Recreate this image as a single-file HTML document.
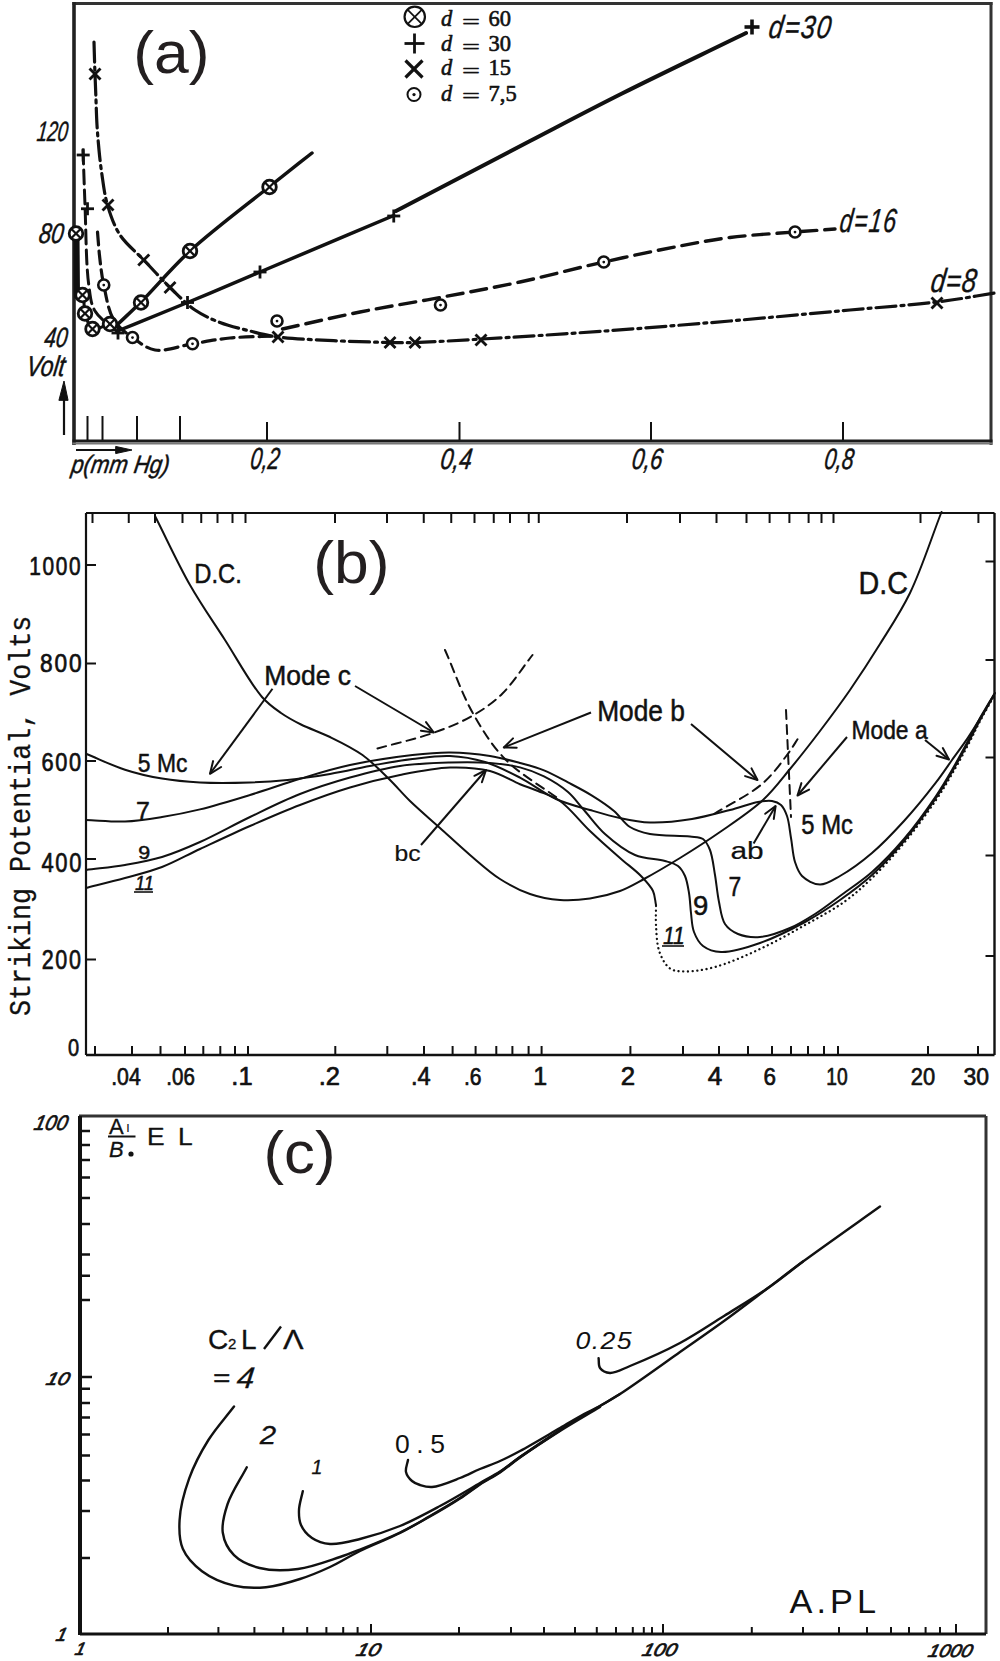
<!DOCTYPE html><html><head><meta charset="utf-8"><style>html,body{margin:0;padding:0;background:#fff;}svg{display:block;}</style></head><body>
<svg width="1000" height="1661" viewBox="0 0 1000 1661">
<rect width="1000" height="1661" fill="#fff"/>
<line x1="72.5" y1="3.5" x2="992.5" y2="3.5" stroke="#333" stroke-width="3" />
<line x1="991" y1="2" x2="991" y2="445" stroke="#333" stroke-width="3" />
<line x1="74" y1="2" x2="74" y2="445" stroke="#222" stroke-width="3.6" />
<line x1="72.5" y1="441" x2="992.5" y2="441" stroke="#1a1a1a" stroke-width="3" />
<line x1="72.5" y1="443.6" x2="992.5" y2="443.6" stroke="#777" stroke-width="2" />
<line x1="87.5" y1="416" x2="87.5" y2="440" stroke="#111" stroke-width="2" />
<line x1="102.5" y1="416" x2="102.5" y2="440" stroke="#111" stroke-width="2" />
<line x1="137" y1="416" x2="137" y2="440" stroke="#111" stroke-width="2" />
<line x1="180" y1="416" x2="180" y2="440" stroke="#111" stroke-width="2" />
<line x1="267" y1="422" x2="267" y2="440" stroke="#111" stroke-width="2" />
<line x1="459.5" y1="422" x2="459.5" y2="440" stroke="#111" stroke-width="2" />
<line x1="651" y1="422" x2="651" y2="440" stroke="#111" stroke-width="2" />
<line x1="843" y1="422" x2="843" y2="440" stroke="#111" stroke-width="2" />
<text transform="translate(36.21,140.64) scale(0.663,1) skewX(-10)" style="font-family:'Liberation Sans',sans-serif;font-size:27.95px;font-style:italic;" fill="#111" stroke="#111" stroke-width="0.5" stroke-linejoin="round">120</text>
<text transform="translate(37.92,243.03) scale(0.775,1) skewX(-10)" style="font-family:'Liberation Sans',sans-serif;font-size:28.49px;font-style:italic;" fill="#111" stroke="#111" stroke-width="0.5" stroke-linejoin="round">80</text>
<text transform="translate(43.59,347.04) scale(0.740,1) skewX(-10)" style="font-family:'Liberation Sans',sans-serif;font-size:27.95px;font-style:italic;" fill="#111" stroke="#111" stroke-width="0.5" stroke-linejoin="round">40</text>
<text transform="translate(25.46,375.82) scale(0.789,1) skewX(-10)" style="font-family:'Liberation Sans',sans-serif;font-size:28.80px;font-style:italic;" fill="#111" stroke="#111" stroke-width="0.5" stroke-linejoin="round">Volt</text>
<line x1="64" y1="392" x2="64" y2="435" stroke="#111" stroke-width="2.2" />
<path d="M59,400 L64,381 L68,400 Z" stroke="#111" stroke-width="1" fill="#111" stroke-linecap="round" stroke-linejoin="round" />
<text transform="translate(70.54,473.44) scale(0.872,1) skewX(-10)" style="font-family:'Liberation Sans',sans-serif;font-size:25.26px;font-style:italic;" fill="#111" stroke="#111" stroke-width="0.5" stroke-linejoin="round">p(mm Hg)</text>
<line x1="76" y1="450" x2="124" y2="450" stroke="#111" stroke-width="2" />
<path d="M116,446.5 L132,450 L116,453.5 Z" stroke="#111" stroke-width="1" fill="#111" stroke-linecap="round" stroke-linejoin="round" />
<text transform="translate(249.54,468.72) scale(0.684,1) skewX(-10)" style="font-family:'Liberation Sans',sans-serif;font-size:30.59px;font-style:italic;" fill="#111" stroke="#111" stroke-width="0.5" stroke-linejoin="round">0,2</text>
<text transform="translate(439.41,468.88) scale(0.772,1) skewX(-10)" style="font-family:'Liberation Sans',sans-serif;font-size:29.41px;font-style:italic;" fill="#111" stroke="#111" stroke-width="0.5" stroke-linejoin="round">0,4</text>
<text transform="translate(630.96,468.88) scale(0.749,1) skewX(-10)" style="font-family:'Liberation Sans',sans-serif;font-size:29.41px;font-style:italic;" fill="#111" stroke="#111" stroke-width="0.5" stroke-linejoin="round">0,6</text>
<text transform="translate(823.52,468.88) scale(0.718,1) skewX(-10)" style="font-family:'Liberation Sans',sans-serif;font-size:29.41px;font-style:italic;" fill="#111" stroke="#111" stroke-width="0.5" stroke-linejoin="round">0,8</text>
<text transform="translate(133.2,73.4) scale(1.04,1)" text-anchor="start" style="font-family:'Liberation Sans',sans-serif;font-size:60px;" fill="#231f20" >(a)</text>
<circle cx="414.75" cy="16.8" r="10.2" stroke="#111" stroke-width="2.2" fill="#fff"/>
<line x1="407.53758" y1="9.587580000000003" x2="421.96242" y2="24.01242" stroke="#111" stroke-width="1.7600000000000002" />
<line x1="407.53758" y1="24.01242" x2="421.96242" y2="9.587580000000003" stroke="#111" stroke-width="1.7600000000000002" />
<line x1="404.5" y1="43.5" x2="424.5" y2="43.5" stroke="#111" stroke-width="2.8" />
<line x1="414.5" y1="33.5" x2="414.5" y2="53.5" stroke="#111" stroke-width="2.8" />
<line x1="405.5" y1="60.5" x2="422.5" y2="77.5" stroke="#111" stroke-width="3.2" />
<line x1="405.5" y1="77.5" x2="422.5" y2="60.5" stroke="#111" stroke-width="3.2" />
<circle cx="414" cy="94.5" r="6.5" stroke="#111" stroke-width="2" fill="#fff"/>
<circle cx="414" cy="94.5" r="1.625" fill="#111"/>
<text transform="translate(441,26.2)" text-anchor="start" style="font-family:'Liberation Serif',sans-serif;font-size:22.5px;font-style:italic;" fill="#111"  stroke="#111" stroke-width="0.6" stroke-linejoin="round">d</text>
<text transform="translate(462,28.7) scale(1.45,1)" text-anchor="start" style="font-family:'Liberation Serif',sans-serif;font-size:22px;" fill="#111"  stroke="#111" stroke-width="0.5" stroke-linejoin="round">=</text>
<text transform="translate(488.5,26.2)" text-anchor="start" style="font-family:'Liberation Serif',sans-serif;font-size:22.5px;" fill="#111"  stroke="#111" stroke-width="0.6" stroke-linejoin="round">60</text>
<text transform="translate(441,51)" text-anchor="start" style="font-family:'Liberation Serif',sans-serif;font-size:22.5px;font-style:italic;" fill="#111"  stroke="#111" stroke-width="0.6" stroke-linejoin="round">d</text>
<text transform="translate(462,53.5) scale(1.45,1)" text-anchor="start" style="font-family:'Liberation Serif',sans-serif;font-size:22px;" fill="#111"  stroke="#111" stroke-width="0.5" stroke-linejoin="round">=</text>
<text transform="translate(488.5,51)" text-anchor="start" style="font-family:'Liberation Serif',sans-serif;font-size:22.5px;" fill="#111"  stroke="#111" stroke-width="0.6" stroke-linejoin="round">30</text>
<text transform="translate(441,75)" text-anchor="start" style="font-family:'Liberation Serif',sans-serif;font-size:22.5px;font-style:italic;" fill="#111"  stroke="#111" stroke-width="0.6" stroke-linejoin="round">d</text>
<text transform="translate(462,77.5) scale(1.45,1)" text-anchor="start" style="font-family:'Liberation Serif',sans-serif;font-size:22px;" fill="#111"  stroke="#111" stroke-width="0.5" stroke-linejoin="round">=</text>
<text transform="translate(488.5,75)" text-anchor="start" style="font-family:'Liberation Serif',sans-serif;font-size:22.5px;" fill="#111"  stroke="#111" stroke-width="0.6" stroke-linejoin="round">15</text>
<text transform="translate(441,100.5)" text-anchor="start" style="font-family:'Liberation Serif',sans-serif;font-size:22.5px;font-style:italic;" fill="#111"  stroke="#111" stroke-width="0.6" stroke-linejoin="round">d</text>
<text transform="translate(462,103.0) scale(1.45,1)" text-anchor="start" style="font-family:'Liberation Serif',sans-serif;font-size:22px;" fill="#111"  stroke="#111" stroke-width="0.5" stroke-linejoin="round">=</text>
<text transform="translate(488.5,100.5)" text-anchor="start" style="font-family:'Liberation Serif',sans-serif;font-size:22.5px;" fill="#111"  stroke="#111" stroke-width="0.6" stroke-linejoin="round">7,5</text>
<text transform="translate(767.72,38.36) scale(0.797,1) skewX(-10)" style="font-family:'Liberation Sans',sans-serif;font-size:32.00px;font-style:italic;letter-spacing:0.06em;" fill="#111" stroke="#111" stroke-width="0.4" stroke-linejoin="round">d=30</text>
<text transform="translate(838.85,231.83) scale(0.693,1) skewX(-10)" style="font-family:'Liberation Sans',sans-serif;font-size:33.33px;font-style:italic;letter-spacing:0.06em;" fill="#111" stroke="#111" stroke-width="0.4" stroke-linejoin="round">d=16</text>
<text transform="translate(929.71,291.83) scale(0.775,1) skewX(-10)" style="font-family:'Liberation Sans',sans-serif;font-size:33.33px;font-style:italic;letter-spacing:0.03em;" fill="#111" stroke="#111" stroke-width="0.4" stroke-linejoin="round">d=8</text>
<path d="M117.0,325.0 C125.0,317.3 131.7,311.3 141.0,302.0 C154.6,288.5 171.1,268.4 190.0,251.0 C212.7,230.2 246.6,204.9 269.0,187.0 C285.5,173.8 297.7,164.3 312.0,153.0" stroke="#111" stroke-width="3.5" fill="none" stroke-linecap="round" stroke-linejoin="round" />
<path d="M76.5,233 L77,296" stroke="#111" stroke-width="6" fill="none" stroke-linecap="round" stroke-linejoin="round" />
<path d="M77.0,296.0 C78.8,296.0 81.2,294.8 82.5,296.0 C84.9,298.0 83.4,307.5 85.0,313.0 C86.7,318.5 88.4,327.1 92.5,329.0 C96.7,330.9 105.5,324.0 110.0,324.0 C112.9,324.0 114.7,325.3 117.0,326.0" stroke="#111" stroke-width="3" fill="none" stroke-linecap="round" stroke-linejoin="round" />
<path d="M117.5,331.0 C140.8,321.5 164.1,312.2 187.5,302.5 C211.2,292.7 231.2,284.1 258.8,272.5 C296.6,256.5 348.8,234.5 393.8,215.5" stroke="#111" stroke-width="3.5" fill="none" stroke-linecap="round" stroke-linejoin="round" />
<path d="M396.0,211.0 C440.7,187.7 489.5,162.0 530.0,141.0 C563.5,123.6 588.9,110.1 622.0,93.5 C660.2,74.3 704.7,53.2 746.0,33.0" stroke="#111" stroke-width="4" fill="none" stroke-linecap="round" stroke-linejoin="round" />
<path d="M83.0,150.0 C83.7,168.3 84.2,185.0 85.0,205.0 C86.0,229.2 86.0,265.7 88.8,285.0 C90.3,296.1 90.5,303.4 95.0,311.0 C99.8,319.2 110.0,325.0 117.5,332.0" stroke="#111" stroke-width="3" fill="none" stroke-linecap="round" stroke-linejoin="round" stroke-dasharray="14 6" />
<path d="M94.0,42.0 C94.3,52.7 94.6,63.9 95.0,74.0 C95.3,83.1 95.7,91.4 96.0,100.0 C96.3,108.4 96.5,116.7 97.0,125.0 C97.5,133.3 98.2,141.7 99.0,150.0 C99.8,158.3 100.7,166.3 102.0,175.0 C103.4,184.6 104.6,195.2 107.5,205.0 C110.5,215.2 114.1,225.9 120.0,235.0 C126.1,244.3 135.6,251.5 143.8,260.0 C152.3,269.0 161.2,278.9 170.0,287.5 C178.3,295.5 186.2,304.0 195.0,310.0 C203.0,315.4 211.1,319.1 220.0,322.5 C229.4,326.1 240.1,328.5 250.0,331.0 C259.5,333.4 265.5,335.4 278.0,337.0 C302.8,340.2 366.0,341.9 390.0,342.5 C401.3,342.8 404.7,342.8 415.0,342.5 C431.9,342.1 456.3,340.5 482.0,339.0 C516.8,337.0 563.8,334.0 605.0,331.0 C646.5,328.0 688.8,324.5 730.0,321.0 C770.4,317.5 813.2,313.4 850.0,310.0 C881.3,307.1 911.0,305.2 937.0,302.0 C958.3,299.4 975.7,296.0 995.0,293.0" stroke="#111" stroke-width="3.2" fill="none" stroke-linecap="round" stroke-linejoin="round" stroke-dasharray="20 5 3 5" />
<path d="M97.5,232.0 C98.3,241.3 98.9,250.9 100.0,260.0 C101.0,268.6 101.8,276.0 103.8,285.0 C106.1,295.8 108.2,310.9 113.8,320.0 C118.4,327.6 125.6,332.5 132.5,337.5 C139.4,342.5 146.2,348.5 155.0,350.0 C165.6,351.8 180.0,345.8 192.5,343.8 C205.0,341.8 216.7,339.3 230.0,338.0 C245.0,336.5 262.0,336.7 278.0,336.0" stroke="#111" stroke-width="3.2" fill="none" stroke-linecap="round" stroke-linejoin="round" stroke-dasharray="13 6" />
<path d="M282.5,329.0 C308.3,323.3 333.9,317.2 360.0,312.0 C386.4,306.7 413.3,302.5 440.0,297.5 C466.7,292.5 493.1,287.8 520.0,282.0 C547.7,276.0 576.4,268.1 603.8,262.0 C629.7,256.2 657.2,250.3 680.0,246.0 C698.4,242.5 712.2,239.8 730.0,237.5 C750.2,234.9 775.9,233.5 795.0,232.0 C809.9,230.8 821.7,230.0 835.0,229.0" stroke="#111" stroke-width="3.4" fill="none" stroke-linecap="round" stroke-linejoin="round" stroke-dasharray="16 8" />
<circle cx="76" cy="233.5" r="6.8" stroke="#111" stroke-width="2.8" fill="#fff"/>
<line x1="71.19172" y1="228.69172" x2="80.80828" y2="238.30828" stroke="#111" stroke-width="2.2399999999999998" />
<line x1="71.19172" y1="238.30828" x2="80.80828" y2="228.69172" stroke="#111" stroke-width="2.2399999999999998" />
<circle cx="82.5" cy="295" r="6.8" stroke="#111" stroke-width="2.8" fill="#fff"/>
<line x1="77.69172" y1="290.19172" x2="87.30828" y2="299.80828" stroke="#111" stroke-width="2.2399999999999998" />
<line x1="77.69172" y1="299.80828" x2="87.30828" y2="290.19172" stroke="#111" stroke-width="2.2399999999999998" />
<circle cx="85" cy="313.5" r="6.8" stroke="#111" stroke-width="2.8" fill="#fff"/>
<line x1="80.19172" y1="308.69172" x2="89.80828" y2="318.30828" stroke="#111" stroke-width="2.2399999999999998" />
<line x1="80.19172" y1="318.30828" x2="89.80828" y2="308.69172" stroke="#111" stroke-width="2.2399999999999998" />
<circle cx="92.5" cy="329" r="6.8" stroke="#111" stroke-width="2.8" fill="#fff"/>
<line x1="87.69172" y1="324.19172" x2="97.30828" y2="333.80828" stroke="#111" stroke-width="2.2399999999999998" />
<line x1="87.69172" y1="333.80828" x2="97.30828" y2="324.19172" stroke="#111" stroke-width="2.2399999999999998" />
<circle cx="110" cy="324" r="6.8" stroke="#111" stroke-width="2.8" fill="#fff"/>
<line x1="105.19172" y1="319.19172" x2="114.80828" y2="328.80828" stroke="#111" stroke-width="2.2399999999999998" />
<line x1="105.19172" y1="328.80828" x2="114.80828" y2="319.19172" stroke="#111" stroke-width="2.2399999999999998" />
<circle cx="141" cy="302.5" r="6.8" stroke="#111" stroke-width="2.8" fill="#fff"/>
<line x1="136.19172" y1="297.69172" x2="145.80828" y2="307.30828" stroke="#111" stroke-width="2.2399999999999998" />
<line x1="136.19172" y1="307.30828" x2="145.80828" y2="297.69172" stroke="#111" stroke-width="2.2399999999999998" />
<circle cx="190" cy="251" r="6.8" stroke="#111" stroke-width="2.8" fill="#fff"/>
<line x1="185.19172" y1="246.19172" x2="194.80828" y2="255.80828" stroke="#111" stroke-width="2.2399999999999998" />
<line x1="185.19172" y1="255.80828" x2="194.80828" y2="246.19172" stroke="#111" stroke-width="2.2399999999999998" />
<circle cx="269.5" cy="187" r="6.8" stroke="#111" stroke-width="2.8" fill="#fff"/>
<line x1="264.69172" y1="182.19172" x2="274.30828" y2="191.80828" stroke="#111" stroke-width="2.2399999999999998" />
<line x1="264.69172" y1="191.80828" x2="274.30828" y2="182.19172" stroke="#111" stroke-width="2.2399999999999998" />
<line x1="744.5" y1="27" x2="759.5" y2="27" stroke="#111" stroke-width="3.6" />
<line x1="752" y1="19.5" x2="752" y2="34.5" stroke="#111" stroke-width="3.6" />
<line x1="76.7" y1="155" x2="89.7" y2="155" stroke="#111" stroke-width="2.8" />
<line x1="83.2" y1="148.5" x2="83.2" y2="161.5" stroke="#111" stroke-width="2.8" />
<line x1="81.0" y1="208.75" x2="94.0" y2="208.75" stroke="#111" stroke-width="2.8" />
<line x1="87.5" y1="202.25" x2="87.5" y2="215.25" stroke="#111" stroke-width="2.8" />
<line x1="387.25" y1="216" x2="400.25" y2="216" stroke="#111" stroke-width="2.8" />
<line x1="393.75" y1="209.5" x2="393.75" y2="222.5" stroke="#111" stroke-width="2.8" />
<line x1="253.5" y1="272" x2="266.5" y2="272" stroke="#111" stroke-width="2.8" />
<line x1="260" y1="265.5" x2="260" y2="278.5" stroke="#111" stroke-width="2.8" />
<line x1="181.0" y1="302.5" x2="194.0" y2="302.5" stroke="#111" stroke-width="2.8" />
<line x1="187.5" y1="296.0" x2="187.5" y2="309.0" stroke="#111" stroke-width="2.8" />
<line x1="111.5" y1="333" x2="124.5" y2="333" stroke="#111" stroke-width="2.8" />
<line x1="118" y1="326.5" x2="118" y2="339.5" stroke="#111" stroke-width="2.8" />
<line x1="89.5" y1="68.5" x2="100.5" y2="79.5" stroke="#111" stroke-width="2.8" />
<line x1="89.5" y1="79.5" x2="100.5" y2="68.5" stroke="#111" stroke-width="2.8" />
<line x1="102.5" y1="199.5" x2="113.5" y2="210.5" stroke="#111" stroke-width="2.8" />
<line x1="102.5" y1="210.5" x2="113.5" y2="199.5" stroke="#111" stroke-width="2.8" />
<line x1="138.25" y1="254.5" x2="149.25" y2="265.5" stroke="#111" stroke-width="2.8" />
<line x1="138.25" y1="265.5" x2="149.25" y2="254.5" stroke="#111" stroke-width="2.8" />
<line x1="164.5" y1="282.0" x2="175.5" y2="293.0" stroke="#111" stroke-width="2.8" />
<line x1="164.5" y1="293.0" x2="175.5" y2="282.0" stroke="#111" stroke-width="2.8" />
<line x1="272.5" y1="331.5" x2="283.5" y2="342.5" stroke="#111" stroke-width="2.8" />
<line x1="272.5" y1="342.5" x2="283.5" y2="331.5" stroke="#111" stroke-width="2.8" />
<line x1="384.5" y1="337.0" x2="395.5" y2="348.0" stroke="#111" stroke-width="2.8" />
<line x1="384.5" y1="348.0" x2="395.5" y2="337.0" stroke="#111" stroke-width="2.8" />
<line x1="409.5" y1="337.0" x2="420.5" y2="348.0" stroke="#111" stroke-width="2.8" />
<line x1="409.5" y1="348.0" x2="420.5" y2="337.0" stroke="#111" stroke-width="2.8" />
<line x1="475.5" y1="334.5" x2="486.5" y2="345.5" stroke="#111" stroke-width="2.8" />
<line x1="475.5" y1="345.5" x2="486.5" y2="334.5" stroke="#111" stroke-width="2.8" />
<line x1="931.5" y1="297.5" x2="942.5" y2="308.5" stroke="#111" stroke-width="2.8" />
<line x1="931.5" y1="308.5" x2="942.5" y2="297.5" stroke="#111" stroke-width="2.8" />
<circle cx="103.75" cy="285" r="5.5" stroke="#111" stroke-width="2.6" fill="#fff"/>
<circle cx="103.75" cy="285" r="1.375" fill="#111"/>
<circle cx="132.5" cy="337.5" r="5.5" stroke="#111" stroke-width="2.6" fill="#fff"/>
<circle cx="132.5" cy="337.5" r="1.375" fill="#111"/>
<circle cx="192.5" cy="343.75" r="5.5" stroke="#111" stroke-width="2.6" fill="#fff"/>
<circle cx="192.5" cy="343.75" r="1.375" fill="#111"/>
<circle cx="277" cy="321" r="5.5" stroke="#111" stroke-width="2.6" fill="#fff"/>
<circle cx="277" cy="321" r="1.375" fill="#111"/>
<circle cx="440.5" cy="305" r="5.5" stroke="#111" stroke-width="2.6" fill="#fff"/>
<circle cx="440.5" cy="305" r="1.375" fill="#111"/>
<circle cx="603.75" cy="262" r="5.5" stroke="#111" stroke-width="2.6" fill="#fff"/>
<circle cx="603.75" cy="262" r="1.375" fill="#111"/>
<circle cx="795" cy="232" r="5.5" stroke="#111" stroke-width="2.6" fill="#fff"/>
<circle cx="795" cy="232" r="1.375" fill="#111"/>
<line x1="86" y1="513" x2="994.5" y2="513" stroke="#111" stroke-width="2.2" />
<line x1="86" y1="513" x2="86" y2="1055" stroke="#111" stroke-width="2.2" />
<line x1="86" y1="1055" x2="994.5" y2="1055" stroke="#111" stroke-width="2.4" />
<line x1="994.5" y1="513" x2="994.5" y2="1055" stroke="#111" stroke-width="2.4" />
<line x1="86" y1="565" x2="96" y2="565" stroke="#111" stroke-width="2" />
<line x1="985.5" y1="561.5" x2="994.5" y2="561.5" stroke="#111" stroke-width="2" />
<line x1="86" y1="663.5" x2="96" y2="663.5" stroke="#111" stroke-width="2" />
<line x1="985.5" y1="660.0" x2="994.5" y2="660.0" stroke="#111" stroke-width="2" />
<line x1="86" y1="761" x2="96" y2="761" stroke="#111" stroke-width="2" />
<line x1="985.5" y1="757.5" x2="994.5" y2="757.5" stroke="#111" stroke-width="2" />
<line x1="86" y1="859" x2="96" y2="859" stroke="#111" stroke-width="2" />
<line x1="985.5" y1="855.5" x2="994.5" y2="855.5" stroke="#111" stroke-width="2" />
<line x1="86" y1="959.5" x2="96" y2="959.5" stroke="#111" stroke-width="2" />
<line x1="985.5" y1="956.0" x2="994.5" y2="956.0" stroke="#111" stroke-width="2" />
<text transform="translate(29.15,574.68) scale(0.809,1)" style="font-family:'Liberation Sans',sans-serif;font-size:25.75px;letter-spacing:0.08em;" fill="#111" stroke="#111" stroke-width="0.7" stroke-linejoin="round">1000</text>
<text transform="translate(40.12,671.98) scale(0.882,1)" style="font-family:'Liberation Sans',sans-serif;font-size:25.75px;letter-spacing:0.08em;" fill="#111" stroke="#111" stroke-width="0.7" stroke-linejoin="round">800</text>
<text transform="translate(41.43,771.08) scale(0.845,1)" style="font-family:'Liberation Sans',sans-serif;font-size:25.75px;letter-spacing:0.08em;" fill="#111" stroke="#111" stroke-width="0.7" stroke-linejoin="round">600</text>
<text transform="translate(41.38,872.25) scale(0.795,1)" style="font-family:'Liberation Sans',sans-serif;font-size:27.67px;letter-spacing:0.08em;" fill="#111" stroke="#111" stroke-width="0.7" stroke-linejoin="round">400</text>
<text transform="translate(41.64,968.85) scale(0.790,1)" style="font-family:'Liberation Sans',sans-serif;font-size:27.26px;letter-spacing:0.08em;" fill="#111" stroke="#111" stroke-width="0.7" stroke-linejoin="round">200</text>
<text transform="translate(67.90,1055.51) scale(0.811,1)" style="font-family:'Liberation Sans',sans-serif;font-size:24.66px;letter-spacing:0.08em;" fill="#111" stroke="#111" stroke-width="0.7" stroke-linejoin="round">0</text>
<line x1="95" y1="1046" x2="95" y2="1055" stroke="#111" stroke-width="2" />
<line x1="132" y1="1046" x2="132" y2="1055" stroke="#111" stroke-width="2" />
<line x1="160.5" y1="1046" x2="160.5" y2="1055" stroke="#111" stroke-width="2" />
<line x1="185" y1="1046" x2="185" y2="1055" stroke="#111" stroke-width="2" />
<line x1="203.3" y1="1046" x2="203.3" y2="1055" stroke="#111" stroke-width="2" />
<line x1="220.3" y1="1046" x2="220.3" y2="1055" stroke="#111" stroke-width="2" />
<line x1="235" y1="1046" x2="235" y2="1055" stroke="#111" stroke-width="2" />
<line x1="248" y1="1046" x2="248" y2="1055" stroke="#111" stroke-width="2" />
<line x1="335.3" y1="1046" x2="335.3" y2="1055" stroke="#111" stroke-width="2" />
<line x1="387.3" y1="1046" x2="387.3" y2="1055" stroke="#111" stroke-width="2" />
<line x1="424" y1="1046" x2="424" y2="1055" stroke="#111" stroke-width="2" />
<line x1="452.6" y1="1046" x2="452.6" y2="1055" stroke="#111" stroke-width="2" />
<line x1="475.6" y1="1046" x2="475.6" y2="1055" stroke="#111" stroke-width="2" />
<line x1="496.3" y1="1046" x2="496.3" y2="1055" stroke="#111" stroke-width="2" />
<line x1="512.4" y1="1046" x2="512.4" y2="1055" stroke="#111" stroke-width="2" />
<line x1="528.6" y1="1046" x2="528.6" y2="1055" stroke="#111" stroke-width="2" />
<line x1="541.6" y1="1046" x2="541.6" y2="1055" stroke="#111" stroke-width="2" />
<line x1="630.4" y1="1046" x2="630.4" y2="1055" stroke="#111" stroke-width="2" />
<line x1="683" y1="1046" x2="683" y2="1055" stroke="#111" stroke-width="2" />
<line x1="719" y1="1046" x2="719" y2="1055" stroke="#111" stroke-width="2" />
<line x1="748" y1="1046" x2="748" y2="1055" stroke="#111" stroke-width="2" />
<line x1="772" y1="1046" x2="772" y2="1055" stroke="#111" stroke-width="2" />
<line x1="791" y1="1046" x2="791" y2="1055" stroke="#111" stroke-width="2" />
<line x1="808" y1="1046" x2="808" y2="1055" stroke="#111" stroke-width="2" />
<line x1="824" y1="1046" x2="824" y2="1055" stroke="#111" stroke-width="2" />
<line x1="838" y1="1046" x2="838" y2="1055" stroke="#111" stroke-width="2" />
<line x1="928" y1="1046" x2="928" y2="1055" stroke="#111" stroke-width="2" />
<line x1="978" y1="1046" x2="978" y2="1055" stroke="#111" stroke-width="2" />
<line x1="92.5" y1="513" x2="92.5" y2="523" stroke="#111" stroke-width="2" />
<line x1="128.75" y1="513" x2="128.75" y2="523" stroke="#111" stroke-width="2" />
<line x1="155" y1="513" x2="155" y2="523" stroke="#111" stroke-width="2" />
<line x1="182.5" y1="513" x2="182.5" y2="523" stroke="#111" stroke-width="2" />
<line x1="201.25" y1="513" x2="201.25" y2="523" stroke="#111" stroke-width="2" />
<line x1="217.5" y1="513" x2="217.5" y2="523" stroke="#111" stroke-width="2" />
<line x1="232.5" y1="513" x2="232.5" y2="523" stroke="#111" stroke-width="2" />
<line x1="245.5" y1="513" x2="245.5" y2="523" stroke="#111" stroke-width="2" />
<line x1="335" y1="513" x2="335" y2="523" stroke="#111" stroke-width="2" />
<line x1="387" y1="513" x2="387" y2="523" stroke="#111" stroke-width="2" />
<line x1="423.75" y1="513" x2="423.75" y2="523" stroke="#111" stroke-width="2" />
<line x1="451.25" y1="513" x2="451.25" y2="523" stroke="#111" stroke-width="2" />
<line x1="474.5" y1="513" x2="474.5" y2="523" stroke="#111" stroke-width="2" />
<line x1="493.75" y1="513" x2="493.75" y2="523" stroke="#111" stroke-width="2" />
<line x1="510" y1="513" x2="510" y2="523" stroke="#111" stroke-width="2" />
<line x1="528.75" y1="513" x2="528.75" y2="523" stroke="#111" stroke-width="2" />
<line x1="538.75" y1="513" x2="538.75" y2="523" stroke="#111" stroke-width="2" />
<line x1="627" y1="513" x2="627" y2="523" stroke="#111" stroke-width="2" />
<line x1="680" y1="513" x2="680" y2="523" stroke="#111" stroke-width="2" />
<line x1="716.5" y1="513" x2="716.5" y2="523" stroke="#111" stroke-width="2" />
<line x1="746.5" y1="513" x2="746.5" y2="523" stroke="#111" stroke-width="2" />
<line x1="769.6" y1="513" x2="769.6" y2="523" stroke="#111" stroke-width="2" />
<line x1="789.4" y1="513" x2="789.4" y2="523" stroke="#111" stroke-width="2" />
<line x1="808.6" y1="513" x2="808.6" y2="523" stroke="#111" stroke-width="2" />
<line x1="821.5" y1="513" x2="821.5" y2="523" stroke="#111" stroke-width="2" />
<line x1="833.5" y1="513" x2="833.5" y2="523" stroke="#111" stroke-width="2" />
<line x1="920.5" y1="513" x2="920.5" y2="523" stroke="#111" stroke-width="2" />
<line x1="978.4" y1="513" x2="978.4" y2="523" stroke="#111" stroke-width="2" />
<text transform="translate(111.20,1084.51) scale(0.861,1)" style="font-family:'Liberation Sans',sans-serif;font-size:24.66px;" fill="#111" stroke="#111" stroke-width="0.7" stroke-linejoin="round">.04</text>
<text transform="translate(166.36,1084.51) scale(0.833,1)" style="font-family:'Liberation Sans',sans-serif;font-size:24.66px;" fill="#111" stroke="#111" stroke-width="0.7" stroke-linejoin="round">.06</text>
<text transform="translate(231.36,1084.75) scale(1.008,1)" style="font-family:'Liberation Sans',sans-serif;font-size:25.35px;" fill="#111" stroke="#111" stroke-width="0.7" stroke-linejoin="round">.1</text>
<text transform="translate(318.76,1084.75) scale(1.022,1)" style="font-family:'Liberation Sans',sans-serif;font-size:25.00px;" fill="#111" stroke="#111" stroke-width="0.7" stroke-linejoin="round">.2</text>
<text transform="translate(410.91,1084.75) scale(0.946,1)" style="font-family:'Liberation Sans',sans-serif;font-size:25.00px;" fill="#111" stroke="#111" stroke-width="0.7" stroke-linejoin="round">.4</text>
<text transform="translate(464.01,1084.51) scale(0.856,1)" style="font-family:'Liberation Sans',sans-serif;font-size:24.66px;" fill="#111" stroke="#111" stroke-width="0.7" stroke-linejoin="round">.6</text>
<text transform="translate(533.20,1084.75) scale(0.986,1)" style="font-family:'Liberation Sans',sans-serif;font-size:25.35px;" fill="#111" stroke="#111" stroke-width="0.7" stroke-linejoin="round">1</text>
<text transform="translate(620.87,1084.75) scale(1.033,1)" style="font-family:'Liberation Sans',sans-serif;font-size:25.00px;" fill="#111" stroke="#111" stroke-width="0.7" stroke-linejoin="round">2</text>
<text transform="translate(707.64,1084.75) scale(1.042,1)" style="font-family:'Liberation Sans',sans-serif;font-size:25.00px;" fill="#111" stroke="#111" stroke-width="0.7" stroke-linejoin="round">4</text>
<text transform="translate(763.60,1084.51) scale(0.910,1)" style="font-family:'Liberation Sans',sans-serif;font-size:24.66px;" fill="#111" stroke="#111" stroke-width="0.7" stroke-linejoin="round">6</text>
<text transform="translate(826.35,1084.51) scale(0.780,1)" style="font-family:'Liberation Sans',sans-serif;font-size:24.66px;" fill="#111" stroke="#111" stroke-width="0.7" stroke-linejoin="round">10</text>
<text transform="translate(910.82,1084.51) scale(0.888,1)" style="font-family:'Liberation Sans',sans-serif;font-size:24.66px;" fill="#111" stroke="#111" stroke-width="0.7" stroke-linejoin="round">20</text>
<text transform="translate(963.54,1084.51) scale(0.929,1)" style="font-family:'Liberation Sans',sans-serif;font-size:24.66px;" fill="#111" stroke="#111" stroke-width="0.7" stroke-linejoin="round">30</text>
<text transform="translate(30,1016) rotate(-90) scale(0.89,1)" text-anchor="start" style="font-family:'Liberation Mono',sans-serif;font-size:30px;" fill="#111"  stroke="#111" stroke-width="0.3" stroke-linejoin="round">Striking Potential, Volts</text>
<text transform="translate(313.2,583.4) scale(1.04,1)" text-anchor="start" style="font-family:'Liberation Sans',sans-serif;font-size:60px;" fill="#231f20" >(b)</text>
<text transform="translate(194.34,583.45) scale(0.868,1)" style="font-family:'Liberation Sans',sans-serif;font-size:27.40px;" fill="#111" stroke="#111" stroke-width="0.5" stroke-linejoin="round">D.C.</text>
<text transform="translate(858.49,593.88) scale(0.931,1)" style="font-family:'Liberation Sans',sans-serif;font-size:30.82px;" fill="#111" stroke="#111" stroke-width="0.5" stroke-linejoin="round">D.C</text>
<text transform="translate(264.15,685.45) scale(0.959,1)" style="font-family:'Liberation Sans',sans-serif;font-size:27.63px;" fill="#111" stroke="#111" stroke-width="0.5" stroke-linejoin="round">Mode c</text>
<text transform="translate(597.16,721.42) scale(0.909,1)" style="font-family:'Liberation Sans',sans-serif;font-size:28.95px;" fill="#111" stroke="#111" stroke-width="0.5" stroke-linejoin="round">Mode b</text>
<text transform="translate(851.40,739.49) scale(0.891,1)" style="font-family:'Liberation Sans',sans-serif;font-size:25.66px;" fill="#111" stroke="#111" stroke-width="0.5" stroke-linejoin="round">Mode a</text>
<text transform="translate(137.81,771.97) scale(0.867,1)" style="font-family:'Liberation Sans',sans-serif;font-size:26.39px;" fill="#111" stroke="#111" stroke-width="0.5" stroke-linejoin="round">5 Mc</text>
<text transform="translate(136.00,819.60) scale(0.941,1)" style="font-family:'Liberation Sans',sans-serif;font-size:26.57px;" fill="#111" stroke="#111" stroke-width="0.5" stroke-linejoin="round">7</text>
<text transform="translate(138.14,858.93) scale(1.160,1)" style="font-family:'Liberation Sans',sans-serif;font-size:18.49px;" fill="#111" stroke="#111" stroke-width="0.5" stroke-linejoin="round">9</text>
<text transform="translate(134.93,889.80) scale(0.928,1)" style="font-family:'Liberation Sans',sans-serif;font-size:19.72px;font-style:italic;" fill="#111" stroke="#111" stroke-width="0.5" stroke-linejoin="round">11</text>
<line x1="134" y1="892" x2="153" y2="892" stroke="#111" stroke-width="1.6" />
<text transform="translate(394.52,860.78) scale(1.144,1)" style="font-family:'Liberation Sans',sans-serif;font-size:21.62px;" fill="#111" stroke="#111" stroke-width="0.2" stroke-linejoin="round">bc</text>
<text transform="translate(730.40,858.56) scale(1.243,1)" style="font-family:'Liberation Sans',sans-serif;font-size:24.05px;" fill="#111" stroke="#111" stroke-width="0.2" stroke-linejoin="round">ab</text>
<text transform="translate(801.28,834.05) scale(0.868,1)" style="font-family:'Liberation Sans',sans-serif;font-size:27.50px;" fill="#111" stroke="#111" stroke-width="0.5" stroke-linejoin="round">5 Mc</text>
<text transform="translate(728.48,896.20) scale(0.810,1)" style="font-family:'Liberation Sans',sans-serif;font-size:28.29px;" fill="#111" stroke="#111" stroke-width="0.5" stroke-linejoin="round">7</text>
<text transform="translate(693.10,915.46) scale(1.014,1)" style="font-family:'Liberation Sans',sans-serif;font-size:27.12px;" fill="#111" stroke="#111" stroke-width="0.5" stroke-linejoin="round">9</text>
<text transform="translate(662.98,943.76) scale(0.880,1)" style="font-family:'Liberation Sans',sans-serif;font-size:23.94px;font-style:italic;" fill="#111" stroke="#111" stroke-width="0.5" stroke-linejoin="round">11</text>
<line x1="662" y1="946" x2="684" y2="946" stroke="#111" stroke-width="1.6" />
<path d="M155.0,516.0 C166.7,539.0 177.8,563.6 190.0,585.0 C201.2,604.7 213.1,621.5 225.0,640.0 C237.1,658.9 250.8,684.3 262.0,697.0 C268.8,704.7 274.4,708.4 281.0,713.0 C287.4,717.5 293.6,720.8 301.0,724.5 C309.7,728.8 320.2,732.2 330.0,737.0 C340.7,742.2 352.6,747.9 362.5,755.0 C372.2,762.0 380.8,771.0 389.0,779.0 C396.6,786.4 402.2,793.4 410.0,801.0 C419.0,809.7 430.0,819.0 440.0,828.0 C450.0,837.0 459.9,846.4 470.0,855.0 C479.9,863.4 489.6,872.4 500.0,879.0 C509.7,885.2 519.8,890.5 530.0,894.0 C539.8,897.4 550.0,899.3 560.0,900.0 C570.0,900.7 580.1,900.0 590.0,898.5 C600.1,897.0 610.7,894.4 620.0,891.0 C628.6,887.8 635.3,883.7 644.0,879.0 C654.9,873.1 667.8,865.5 680.0,858.0 C693.1,849.9 706.6,841.3 720.0,832.0 C734.2,822.1 750.8,811.3 763.0,800.0 C773.7,790.1 780.9,780.0 790.0,769.0 C799.9,757.1 810.1,744.0 820.0,731.0 C830.1,717.7 840.2,704.2 850.0,690.0 C860.2,675.2 870.2,659.8 880.0,644.0 C890.2,627.6 900.6,612.4 910.0,593.0 C921.4,569.5 931.0,539.0 941.5,512.0" stroke="#111" stroke-width="2.0" fill="none" stroke-linecap="round" stroke-linejoin="round" />
<path d="M86.0,753.8 C99.0,759.1 112.0,765.5 125.0,769.7 C137.3,773.7 149.5,776.5 162.0,778.6 C174.5,780.7 186.4,781.8 200.0,782.5 C215.5,783.3 234.5,783.0 250.0,782.5 C263.4,782.1 274.6,781.3 287.5,780.0 C301.2,778.6 315.7,776.4 330.0,774.0 C344.8,771.5 360.7,767.6 375.0,765.0 C388.0,762.7 400.0,760.5 412.5,759.0 C425.0,757.5 437.7,755.4 450.0,756.0 C461.9,756.5 473.5,758.5 485.0,762.0 C496.9,765.6 508.4,771.6 520.0,777.6 C532.1,783.9 543.9,793.5 556.0,799.0 C567.2,804.1 579.0,806.8 590.0,810.0 C600.3,813.0 609.9,815.9 620.0,818.0 C629.9,820.1 639.1,822.1 650.0,822.5 C662.8,822.9 678.4,821.2 692.0,819.0 C705.1,816.9 718.3,813.0 730.0,810.0 C740.1,807.4 750.2,803.4 758.0,802.0 C763.4,801.0 767.9,800.3 772.0,801.0 C775.4,801.6 778.6,802.8 781.0,805.0 C783.7,807.5 785.4,811.6 787.0,816.0 C789.1,821.9 789.7,830.5 791.0,838.0 C792.4,845.8 792.8,855.2 795.0,862.0 C796.8,867.4 798.3,872.3 802.0,876.0 C806.2,880.1 813.8,884.5 820.0,884.6 C826.5,884.7 832.8,880.1 840.0,876.0 C849.7,870.5 861.7,861.8 872.0,853.0 C883.1,843.6 893.6,832.4 904.0,821.0 C915.0,809.0 927.3,793.7 936.0,782.4 C942.4,774.1 946.7,767.5 952.0,760.0 C957.3,752.5 962.8,745.4 968.0,737.6 C973.5,729.4 979.2,719.9 984.0,712.0 C988.1,705.2 991.3,699.3 995.0,693.0" stroke="#111" stroke-width="2.0" fill="none" stroke-linecap="round" stroke-linejoin="round" />
<path d="M86.0,820.0 C99.0,820.5 112.2,822.0 125.0,821.5 C137.5,821.0 149.6,819.0 162.0,817.0 C174.6,815.0 186.5,812.7 200.0,809.4 C215.6,805.6 233.4,800.1 250.0,795.0 C266.7,789.9 283.3,783.8 300.0,778.8 C316.6,773.8 332.3,768.8 350.0,765.0 C369.6,760.8 394.3,757.1 412.5,755.0 C426.5,753.4 437.3,752.4 450.0,752.5 C463.1,752.6 477.7,754.0 490.0,756.0 C500.8,757.7 510.6,760.5 520.0,763.0 C528.5,765.3 536.1,767.2 544.0,770.4 C552.1,773.7 560.0,778.2 568.0,782.4 C576.0,786.6 584.3,790.8 592.0,795.6 C599.6,800.3 607.5,805.5 614.0,811.0 C620.0,816.0 623.9,823.2 630.0,827.0 C635.9,830.7 642.1,832.4 650.0,834.0 C660.9,836.2 680.3,835.3 690.0,836.5 C695.5,837.2 699.7,836.7 703.0,839.0 C706.3,841.3 708.1,845.4 710.0,850.0 C712.6,856.5 713.5,866.5 715.0,875.0 C716.5,883.8 717.2,893.5 719.0,902.0 C720.6,909.8 721.3,918.5 725.0,924.0 C728.1,928.7 732.8,931.8 738.0,934.0 C744.1,936.5 752.2,937.6 760.0,937.0 C769.3,936.3 780.7,932.0 790.0,928.0 C798.9,924.2 806.8,919.2 815.0,914.0 C823.5,908.6 831.2,902.5 840.0,896.0 C850.0,888.6 861.7,881.1 872.0,872.0 C883.1,862.3 893.7,851.1 904.0,839.0 C915.1,825.9 927.4,808.7 936.0,796.0 C942.5,786.4 946.8,779.0 952.0,770.0 C957.4,760.7 963.2,749.9 968.0,741.0 C972.1,733.5 975.0,727.3 979.0,720.0 C983.5,711.8 989.0,702.9 994.0,694.4" stroke="#111" stroke-width="2.0" fill="none" stroke-linecap="round" stroke-linejoin="round" />
<path d="M86.0,870.0 C99.0,868.3 112.2,867.2 125.0,865.0 C137.5,862.8 149.7,860.7 162.0,857.0 C174.7,853.1 186.6,848.0 200.0,842.0 C215.7,835.0 233.3,825.0 250.0,817.0 C266.6,809.0 283.1,800.6 300.0,794.0 C316.5,787.5 333.2,782.2 350.0,777.5 C366.6,772.9 383.2,768.5 400.0,766.0 C416.6,763.5 434.3,763.0 450.0,762.5 C464.1,762.1 477.7,762.0 490.0,763.0 C500.7,763.9 510.7,765.0 520.0,767.4 C528.6,769.6 536.2,772.5 544.0,776.4 C552.2,780.6 561.1,786.1 568.0,792.0 C574.3,797.4 578.3,803.6 584.0,810.0 C590.5,817.4 596.9,826.7 605.0,834.0 C613.7,841.8 624.5,850.5 635.0,855.0 C644.6,859.1 657.1,858.7 665.0,861.0 C670.3,862.5 674.6,863.4 678.0,866.0 C681.2,868.5 683.2,872.0 685.0,876.0 C687.1,880.8 688.0,887.1 689.0,893.0 C690.1,899.4 690.2,906.4 691.0,913.0 C691.8,919.4 691.8,926.3 694.0,932.0 C696.0,937.3 698.7,942.7 703.0,946.0 C707.6,949.5 713.8,951.7 721.0,952.0 C731.5,952.5 746.8,947.6 760.0,943.0 C774.7,937.9 791.2,929.5 805.0,922.0 C817.6,915.1 828.8,907.9 840.0,900.0 C851.1,892.2 861.7,884.4 872.0,875.0 C883.1,864.9 893.7,853.3 904.0,841.0 C915.1,827.8 927.4,810.7 936.0,798.0 C942.5,788.4 946.8,781.0 952.0,772.0 C957.4,762.7 963.2,751.9 968.0,743.0 C972.1,735.5 975.0,729.4 979.0,722.0 C983.6,713.5 989.0,704.0 994.0,695.0" stroke="#111" stroke-width="2.0" fill="none" stroke-linecap="round" stroke-linejoin="round" />
<path d="M86.0,888.0 C99.0,884.7 112.2,881.5 125.0,878.0 C137.5,874.5 149.8,871.7 162.0,867.0 C174.8,862.1 186.4,855.3 200.0,849.0 C215.5,841.8 233.3,833.4 250.0,826.0 C266.6,818.7 283.2,811.4 300.0,805.0 C316.6,798.6 333.2,792.5 350.0,787.5 C366.6,782.5 383.3,778.3 400.0,775.0 C416.6,771.7 434.2,768.0 450.0,767.5 C464.0,767.1 477.9,767.9 490.0,771.0 C501.0,773.8 511.2,780.6 520.0,784.2 C526.7,786.9 531.7,788.4 538.0,791.0 C545.0,793.9 552.6,795.9 560.0,801.0 C569.8,807.8 579.9,821.4 590.0,831.0 C599.9,840.4 610.8,850.0 620.0,858.0 C627.6,864.7 635.2,870.0 641.0,876.0 C645.8,881.0 650.5,885.8 653.0,891.0 C655.1,895.5 655.0,900.3 656.0,905.0" stroke="#111" stroke-width="2.0" fill="none" stroke-linecap="round" stroke-linejoin="round" />
<path d="M656.0,906.0 C656.0,912.3 655.6,918.1 656.0,925.0 C656.5,933.2 656.7,944.4 659.5,952.0 C661.8,958.5 665.4,965.3 670.0,968.5 C674.1,971.3 679.1,971.4 685.0,971.5 C693.3,971.7 704.2,969.9 715.0,967.0 C728.7,963.3 745.2,955.9 760.0,949.0 C775.2,941.9 790.6,933.1 805.0,925.0 C818.5,917.4 832.4,910.3 844.0,902.0 C854.5,894.5 862.6,887.1 872.0,878.0 C882.6,867.7 893.6,855.5 904.0,843.0 C915.0,829.7 927.4,812.7 936.0,800.0 C942.5,790.4 946.8,783.0 952.0,774.0 C957.4,764.7 963.2,754.0 968.0,745.0 C972.1,737.2 975.0,730.7 979.0,723.0 C983.5,714.4 989.0,705.0 994.0,696.0" stroke="#111" stroke-width="2.3" fill="none" stroke-linecap="round" stroke-linejoin="round" stroke-dasharray="0.1 4.6" />
<path d="M377.5,748.5 C396.0,743.3 416.3,738.9 433.0,733.0 C447.3,727.9 460.2,722.8 472.0,716.0 C483.0,709.6 492.6,703.2 502.0,694.0 C512.9,683.4 522.3,668.0 532.5,655.0" stroke="#111" stroke-width="2" fill="none" stroke-linecap="round" stroke-linejoin="round" stroke-dasharray="9 6" />
<path d="M445.0,650.0 C454.2,670.8 461.9,693.7 472.5,712.5 C482.2,729.7 491.4,745.0 505.0,759.0 C520.0,774.4 541.7,786.3 560.0,800.0" stroke="#111" stroke-width="2" fill="none" stroke-linecap="round" stroke-linejoin="round" stroke-dasharray="9 6" />
<path d="M714.0,814.0 C730.0,804.0 749.2,795.0 762.0,784.0 C772.5,775.0 780.4,763.7 787.0,755.0 C792.0,748.5 795.0,743.0 799.0,737.0" stroke="#111" stroke-width="2" fill="none" stroke-linecap="round" stroke-linejoin="round" stroke-dasharray="9 6" />
<path d="M786,710 L791,817" stroke="#111" stroke-width="2" fill="none" stroke-linecap="round" stroke-linejoin="round" stroke-dasharray="9 6" />
<line x1="272.5" y1="688.75" x2="210" y2="773.75" stroke="#111" stroke-width="2" />
<path d="M221.1,767.0 L210.0,773.8 L213.1,761.1" stroke="#111" stroke-width="2" fill="none" stroke-linecap="round" stroke-linejoin="round" />
<line x1="355" y1="686" x2="433.75" y2="732.5" stroke="#111" stroke-width="2" />
<path d="M426.0,722.1 L433.8,732.5 L420.9,730.7" stroke="#111" stroke-width="2" fill="none" stroke-linecap="round" stroke-linejoin="round" />
<line x1="591" y1="712.5" x2="503.75" y2="747.5" stroke="#111" stroke-width="2" />
<path d="M516.7,747.7 L503.8,747.5 L513.0,738.4" stroke="#111" stroke-width="2" fill="none" stroke-linecap="round" stroke-linejoin="round" />
<line x1="691" y1="724" x2="757.5" y2="780" stroke="#111" stroke-width="2" />
<path d="M751.5,768.4 L757.5,780.0 L745.1,776.1" stroke="#111" stroke-width="2" fill="none" stroke-linecap="round" stroke-linejoin="round" />
<line x1="847" y1="737" x2="797.5" y2="795.5" stroke="#111" stroke-width="2" />
<path d="M809.1,789.6 L797.5,795.5 L801.4,783.1" stroke="#111" stroke-width="2" fill="none" stroke-linecap="round" stroke-linejoin="round" />
<line x1="925" y1="740" x2="949" y2="759.5" stroke="#111" stroke-width="2" />
<path d="M942.8,748.1 L949.0,759.5 L936.5,755.8" stroke="#111" stroke-width="2" fill="none" stroke-linecap="round" stroke-linejoin="round" />
<line x1="421" y1="845" x2="486" y2="770" stroke="#111" stroke-width="2" />
<path d="M474.4,775.8 L486.0,770.0 L481.9,782.3" stroke="#111" stroke-width="2" fill="none" stroke-linecap="round" stroke-linejoin="round" />
<line x1="753.6" y1="843.4" x2="775.6" y2="806" stroke="#111" stroke-width="2" />
<path d="M765.2,813.8 L775.6,806.0 L773.8,818.9" stroke="#111" stroke-width="2" fill="none" stroke-linecap="round" stroke-linejoin="round" />
<line x1="79" y1="1116" x2="986" y2="1116" stroke="#333" stroke-width="3" />
<line x1="986" y1="1116" x2="986" y2="1634" stroke="#333" stroke-width="3" />
<line x1="80" y1="1116" x2="80" y2="1635" stroke="#111" stroke-width="4" />
<line x1="80" y1="1634" x2="986" y2="1634" stroke="#111" stroke-width="3.2" />
<line x1="80" y1="1131" x2="90" y2="1131" stroke="#111" stroke-width="2.5" />
<line x1="80" y1="1145" x2="90" y2="1145" stroke="#111" stroke-width="2.5" />
<line x1="80" y1="1160" x2="90" y2="1160" stroke="#111" stroke-width="2.5" />
<line x1="80" y1="1177.5" x2="90" y2="1177.5" stroke="#111" stroke-width="2.5" />
<line x1="80" y1="1198" x2="90" y2="1198" stroke="#111" stroke-width="2.5" />
<line x1="80" y1="1224" x2="90" y2="1224" stroke="#111" stroke-width="2.5" />
<line x1="80" y1="1254.5" x2="90" y2="1254.5" stroke="#111" stroke-width="2.5" />
<line x1="80" y1="1275.75" x2="90" y2="1275.75" stroke="#111" stroke-width="2.5" />
<line x1="80" y1="1300" x2="90" y2="1300" stroke="#111" stroke-width="2.5" />
<line x1="80" y1="1388.75" x2="90" y2="1388.75" stroke="#111" stroke-width="2.5" />
<line x1="80" y1="1403" x2="90" y2="1403" stroke="#111" stroke-width="2.5" />
<line x1="80" y1="1417.5" x2="90" y2="1417.5" stroke="#111" stroke-width="2.5" />
<line x1="80" y1="1434.5" x2="90" y2="1434.5" stroke="#111" stroke-width="2.5" />
<line x1="80" y1="1455.5" x2="90" y2="1455.5" stroke="#111" stroke-width="2.5" />
<line x1="80" y1="1480.5" x2="90" y2="1480.5" stroke="#111" stroke-width="2.5" />
<line x1="80" y1="1511" x2="90" y2="1511" stroke="#111" stroke-width="2.5" />
<line x1="80" y1="1558" x2="90" y2="1558" stroke="#111" stroke-width="2.5" />
<line x1="80" y1="1377" x2="92" y2="1377" stroke="#111" stroke-width="2.5" />
<line x1="168" y1="1627" x2="168" y2="1634" stroke="#111" stroke-width="2" />
<line x1="218.4" y1="1627" x2="218.4" y2="1634" stroke="#111" stroke-width="2" />
<line x1="254.4" y1="1627" x2="254.4" y2="1634" stroke="#111" stroke-width="2" />
<line x1="283.2" y1="1627" x2="283.2" y2="1634" stroke="#111" stroke-width="2" />
<line x1="307.2" y1="1627" x2="307.2" y2="1634" stroke="#111" stroke-width="2" />
<line x1="326.4" y1="1627" x2="326.4" y2="1634" stroke="#111" stroke-width="2" />
<line x1="343.2" y1="1627" x2="343.2" y2="1634" stroke="#111" stroke-width="2" />
<line x1="357.6" y1="1627" x2="357.6" y2="1634" stroke="#111" stroke-width="2" />
<line x1="459" y1="1627" x2="459" y2="1634" stroke="#111" stroke-width="2" />
<line x1="511" y1="1627" x2="511" y2="1634" stroke="#111" stroke-width="2" />
<line x1="544" y1="1627" x2="544" y2="1634" stroke="#111" stroke-width="2" />
<line x1="575" y1="1627" x2="575" y2="1634" stroke="#111" stroke-width="2" />
<line x1="596.8" y1="1627" x2="596.8" y2="1634" stroke="#111" stroke-width="2" />
<line x1="616" y1="1627" x2="616" y2="1634" stroke="#111" stroke-width="2" />
<line x1="632.8" y1="1627" x2="632.8" y2="1634" stroke="#111" stroke-width="2" />
<line x1="643.8" y1="1627" x2="643.8" y2="1634" stroke="#111" stroke-width="2" />
<line x1="652" y1="1627" x2="652" y2="1634" stroke="#111" stroke-width="2" />
<line x1="751.8" y1="1627" x2="751.8" y2="1634" stroke="#111" stroke-width="2" />
<line x1="803" y1="1627" x2="803" y2="1634" stroke="#111" stroke-width="2" />
<line x1="839" y1="1627" x2="839" y2="1634" stroke="#111" stroke-width="2" />
<line x1="867" y1="1627" x2="867" y2="1634" stroke="#111" stroke-width="2" />
<line x1="891" y1="1627" x2="891" y2="1634" stroke="#111" stroke-width="2" />
<line x1="909" y1="1627" x2="909" y2="1634" stroke="#111" stroke-width="2" />
<line x1="925.6" y1="1627" x2="925.6" y2="1634" stroke="#111" stroke-width="2" />
<line x1="940" y1="1627" x2="940" y2="1634" stroke="#111" stroke-width="2" />
<line x1="371" y1="1624" x2="371" y2="1634" stroke="#111" stroke-width="2" />
<line x1="663" y1="1624" x2="663" y2="1634" stroke="#111" stroke-width="2" />
<line x1="956" y1="1624" x2="956" y2="1634" stroke="#111" stroke-width="2" />
<text transform="translate(33,1130) scale(0.95,1) skewX(-14)" text-anchor="start" style="font-family:'Liberation Sans',sans-serif;font-size:21px;font-style:italic;" fill="#111"  stroke="#111" stroke-width="0.7" stroke-linejoin="round">100</text>
<text transform="translate(45,1385) scale(1.15,1) skewX(-14)" text-anchor="start" style="font-family:'Liberation Sans',sans-serif;font-size:18px;font-style:italic;" fill="#111"  stroke="#111" stroke-width="0.7" stroke-linejoin="round">10</text>
<text transform="translate(55,1641) skewX(-14)" text-anchor="start" style="font-family:'Liberation Sans',sans-serif;font-size:19px;font-style:italic;" fill="#111"  stroke="#111" stroke-width="0.7" stroke-linejoin="round">1</text>
<text transform="translate(74,1655) skewX(-14)" text-anchor="start" style="font-family:'Liberation Sans',sans-serif;font-size:18px;font-style:italic;" fill="#111"  stroke="#111" stroke-width="0.7" stroke-linejoin="round">1</text>
<text transform="translate(355,1656) scale(1.2,1) skewX(-14)" text-anchor="start" style="font-family:'Liberation Sans',sans-serif;font-size:18px;font-style:italic;" fill="#111"  stroke="#111" stroke-width="0.7" stroke-linejoin="round">10</text>
<text transform="translate(641,1656) scale(1.15,1) skewX(-14)" text-anchor="start" style="font-family:'Liberation Sans',sans-serif;font-size:18px;font-style:italic;" fill="#111"  stroke="#111" stroke-width="0.7" stroke-linejoin="round">100</text>
<text transform="translate(927,1657) scale(1.1,1) skewX(-14)" text-anchor="start" style="font-family:'Liberation Sans',sans-serif;font-size:18px;font-style:italic;" fill="#111"  stroke="#111" stroke-width="0.7" stroke-linejoin="round">1000</text>
<text transform="translate(263.5,1173) scale(1.03,1)" text-anchor="start" style="font-family:'Liberation Sans',sans-serif;font-size:60px;" fill="#231f20" >(c)</text>
<text transform="translate(789.40,1613.30) scale(1.062,1)" style="font-family:'Liberation Sans',sans-serif;font-size:32.32px;letter-spacing:0.12em;" fill="#111">A.PL</text>
<text transform="translate(147,1145) scale(1.1,1)" text-anchor="start" style="font-family:'Liberation Sans',sans-serif;font-size:24px;" fill="#111"  stroke="#111" stroke-width="0.3" stroke-linejoin="round">E</text>
<text transform="translate(178,1145) scale(1.1,1)" text-anchor="start" style="font-family:'Liberation Sans',sans-serif;font-size:24px;" fill="#111"  stroke="#111" stroke-width="0.3" stroke-linejoin="round">L</text>
<text transform="translate(109,1134)" text-anchor="start" style="font-family:'Liberation Sans',sans-serif;font-size:22px;" fill="#111"  stroke="#111" stroke-width="0.3" stroke-linejoin="round">A</text>
<text transform="translate(126,1132)" text-anchor="start" style="font-family:'Liberation Sans',sans-serif;font-size:14px;" fill="#111" >ı</text>
<line x1="108" y1="1136.5" x2="135.5" y2="1136.5" stroke="#111" stroke-width="2" />
<text transform="translate(109,1157)" text-anchor="start" style="font-family:'Liberation Sans',sans-serif;font-size:22px;font-style:italic;" fill="#111"  stroke="#111" stroke-width="0.3" stroke-linejoin="round">B</text>
<circle cx="131" cy="1154" r="2.6" fill="#111"/>
<text transform="translate(208,1349)" text-anchor="start" style="font-family:'Liberation Sans',sans-serif;font-size:28px;" fill="#111"  stroke="#111" stroke-width="0.3" stroke-linejoin="round">C</text>
<text transform="translate(228,1349)" text-anchor="start" style="font-family:'Liberation Sans',sans-serif;font-size:15px;" fill="#111"  stroke="#111" stroke-width="0.3" stroke-linejoin="round">2</text>
<text transform="translate(241,1349)" text-anchor="start" style="font-family:'Liberation Sans',sans-serif;font-size:28px;" fill="#111"  stroke="#111" stroke-width="0.3" stroke-linejoin="round">L</text>
<line x1="264" y1="1349" x2="281" y2="1326.5" stroke="#111" stroke-width="2.4" />
<text transform="translate(283,1349) scale(1.1,1)" text-anchor="start" style="font-family:'Liberation Sans',sans-serif;font-size:28px;" fill="#111"  stroke="#111" stroke-width="0.3" stroke-linejoin="round">Λ</text>
<text transform="translate(213,1386) scale(1.25,1)" text-anchor="start" style="font-family:'Liberation Sans',sans-serif;font-size:24px;" fill="#111"  stroke="#111" stroke-width="0.3" stroke-linejoin="round">=</text>
<text transform="translate(236,1388) scale(1.05,1) skewX(-6)" text-anchor="start" style="font-family:'Liberation Sans',sans-serif;font-size:30px;font-style:italic;" fill="#111"  stroke="#111" stroke-width="0.3" stroke-linejoin="round">4</text>
<text transform="translate(259.79,1444.00) scale(1.146,1)" style="font-family:'Liberation Sans',sans-serif;font-size:25.71px;font-style:italic;" fill="#111" stroke="#111" stroke-width="0.3" stroke-linejoin="round">2</text>
<text transform="translate(311.61,1474.00) scale(1.000,1)" style="font-family:'Liberation Sans',sans-serif;font-size:19.57px;font-style:italic;" fill="#111" stroke="#111" stroke-width="0.3" stroke-linejoin="round">1</text>
<text transform="translate(394.94,1452.75) scale(1.046,1)" style="font-family:'Liberation Sans',sans-serif;font-size:25.35px;letter-spacing:0.25em;" fill="#111">0.5</text>
<text transform="translate(575.53,1349.15) scale(1.077,1)" style="font-family:'Liberation Sans',sans-serif;font-size:24.79px;font-style:italic;letter-spacing:0.05em;" fill="#111">0.25</text>
<path d="M234.0,1406.5 C225.5,1417.7 215.8,1428.1 208.4,1440.0 C200.9,1452.0 194.0,1465.0 189.2,1478.4 C184.4,1491.7 180.3,1507.3 179.6,1520.0 C179.0,1530.4 179.1,1540.3 182.8,1548.8 C186.5,1557.4 194.0,1565.2 202.0,1571.2 C210.7,1577.7 223.1,1583.0 234.0,1585.6 C244.4,1588.1 255.2,1588.2 266.0,1587.2 C277.2,1586.1 289.1,1582.5 300.0,1579.0 C310.4,1575.7 320.1,1571.6 330.0,1567.0 C340.1,1562.3 349.2,1556.3 360.0,1551.0 C372.3,1545.0 387.8,1539.2 400.0,1533.0 C410.9,1527.5 420.0,1521.8 430.0,1516.0 C440.0,1510.1 451.1,1503.8 460.0,1498.0 C467.4,1493.2 473.3,1488.4 480.0,1484.0 C486.6,1479.7 493.4,1476.4 500.0,1472.0 C506.8,1467.4 512.1,1462.6 520.0,1457.0 C531.0,1449.2 546.6,1438.6 560.0,1430.0 C573.2,1421.6 589.0,1412.6 600.0,1406.0 C607.8,1401.3 611.7,1399.4 620.0,1394.0 C634.8,1384.4 661.6,1365.0 680.0,1352.0 C695.8,1340.9 709.4,1331.6 724.0,1321.0 C738.7,1310.3 754.2,1298.4 768.0,1288.0 C780.3,1278.7 789.0,1271.8 803.0,1261.5 C823.6,1246.4 854.3,1224.8 880.0,1206.5" stroke="#111" stroke-width="2.4" fill="none" stroke-linecap="round" stroke-linejoin="round" />
<path d="M246.8,1467.2 C240.4,1479.5 231.6,1492.2 227.6,1504.0 C224.3,1513.9 221.5,1524.0 222.8,1532.8 C224.0,1541.0 228.2,1549.4 234.0,1555.2 C240.2,1561.4 249.9,1565.6 259.6,1568.0 C270.8,1570.8 285.0,1570.6 298.0,1569.0 C311.8,1567.2 328.6,1560.7 340.0,1557.0 C348.0,1554.4 352.2,1552.6 360.0,1549.5 C371.1,1545.1 387.7,1538.4 400.0,1532.5 C410.8,1527.3 420.1,1522.1 430.0,1516.5 C440.1,1510.8 451.1,1504.3 460.0,1498.5 C467.4,1493.7 473.3,1488.9 480.0,1484.5 C486.6,1480.2 493.4,1476.9 500.0,1472.5 C506.8,1467.9 512.1,1463.1 520.0,1457.5 C531.0,1449.8 546.6,1439.5 560.0,1431.0 C573.2,1422.6 586.7,1415.0 600.0,1407.0" stroke="#111" stroke-width="2.4" fill="none" stroke-linecap="round" stroke-linejoin="round" />
<path d="M302.8,1491.2 C301.5,1497.5 299.2,1504.1 299.0,1510.0 C298.8,1515.3 299.0,1520.4 301.0,1525.0 C303.1,1529.8 307.4,1534.9 312.0,1538.0 C316.9,1541.3 323.2,1543.5 330.0,1544.0 C338.7,1544.7 349.4,1541.6 360.0,1539.0 C372.5,1535.9 386.9,1531.4 400.0,1526.0 C413.5,1520.4 426.8,1513.1 440.0,1506.0 C453.4,1498.8 469.0,1489.4 480.0,1483.0 C487.8,1478.5 493.4,1475.7 500.0,1471.5 C506.8,1467.1 512.1,1462.5 520.0,1457.0 C531.0,1449.4 546.7,1439.3 560.0,1430.5" stroke="#111" stroke-width="2.4" fill="none" stroke-linecap="round" stroke-linejoin="round" />
<path d="M408.0,1460.0 C407.3,1464.0 405.2,1468.4 406.0,1472.0 C406.7,1475.4 409.5,1478.8 412.0,1481.0 C414.3,1483.0 417.0,1484.0 420.0,1485.0 C423.5,1486.1 427.2,1487.3 432.0,1487.0 C439.4,1486.5 451.5,1481.3 460.0,1478.0 C467.3,1475.2 473.3,1471.8 480.0,1469.0 C486.6,1466.2 493.4,1464.0 500.0,1461.0 C506.7,1458.0 512.3,1455.2 520.0,1451.0 C531.1,1445.0 548.4,1434.7 560.0,1428.0 C569.0,1422.8 576.8,1417.9 584.0,1414.0 C589.8,1410.9 594.4,1409.1 600.0,1406.0 C606.4,1402.5 613.3,1398.0 620.0,1394.0" stroke="#111" stroke-width="2.4" fill="none" stroke-linecap="round" stroke-linejoin="round" />
<path d="M598.6,1358.2 C599.1,1361.5 598.2,1365.6 600.0,1368.0 C601.9,1370.6 606.0,1372.7 610.0,1373.0 C615.5,1373.3 621.9,1369.3 630.0,1366.0 C643.0,1360.7 664.1,1351.5 680.0,1343.0 C695.4,1334.8 709.4,1325.1 724.0,1316.0 C738.7,1306.8 754.4,1297.5 768.0,1288.0 C780.5,1279.3 791.3,1270.3 803.0,1261.5" stroke="#111" stroke-width="2.4" fill="none" stroke-linecap="round" stroke-linejoin="round" />
</svg></body></html>
